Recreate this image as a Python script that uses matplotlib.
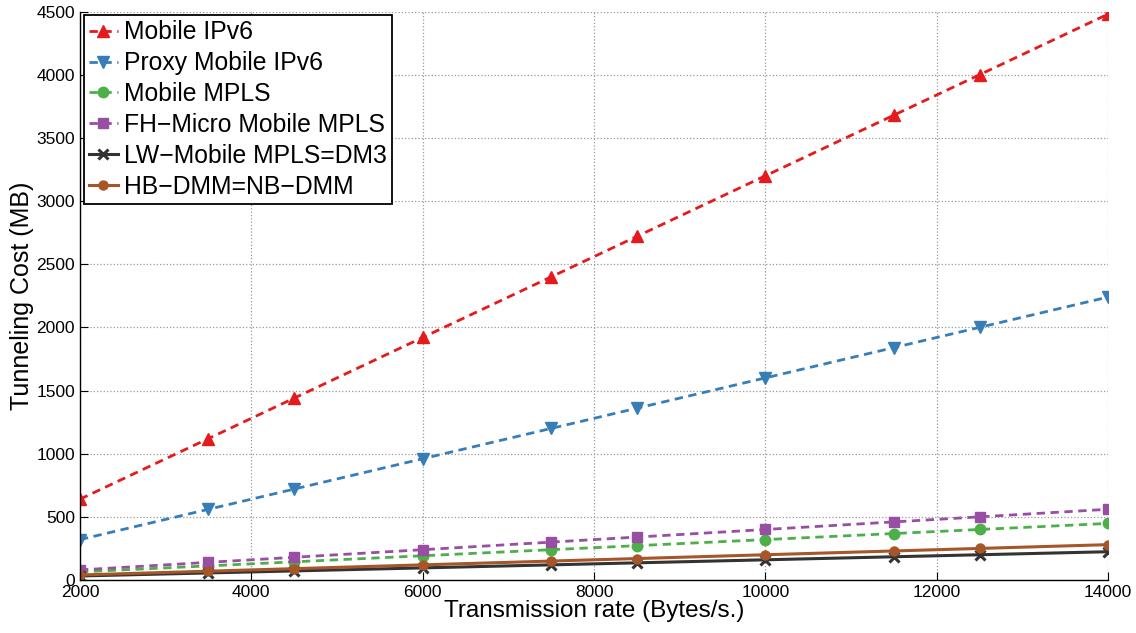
import matplotlib
matplotlib.use("Agg")
import matplotlib.pyplot as plt

plt.rcParams['font.family'] = ['Liberation Sans', 'DejaVu Sans']

x = [2000, 3500, 4500, 6000, 7500, 8500, 10000, 11500, 12500, 14000]
mipv6 = [640, 1120, 1440, 1920, 2400, 2720, 3200, 3680, 4000, 4480]
pmipv6 = [320, 560, 720, 960, 1200, 1360, 1600, 1840, 2000, 2240]
mmpls = [64, 112, 144, 192, 240, 272, 320, 368, 400, 448]
fh = [80, 140, 180, 240, 300, 340, 400, 460, 500, 560]
lw = [32, 56, 72, 96, 120, 136, 160, 184, 200, 224]
hb = [40, 70, 90, 120, 150, 170, 200, 230, 250, 280]

labels = ["Mobile IPv6", "Proxy Mobile IPv6", "Mobile MPLS",
          "FH\u2212Micro Mobile MPLS", "LW\u2212Mobile MPLS=DM3", "HB\u2212DMM=NB\u2212DMM"]
xticks = [2000, 4000, 6000, 8000, 10000, 12000, 14000]
yticks = [0, 500, 1000, 1500, 2000, 2500, 3000, 3500, 4000, 4500]

fig = plt.figure(figsize=(11.36, 6.33), dpi=100)
ax = fig.add_axes([0.0704, 0.0837, 0.905, 0.898])

ax.plot(x, mipv6, '--', color='#e41a1c', marker='^', ms=9, lw=2, label=labels[0], dashes=(3, 2))
ax.plot(x, pmipv6, '--', color='#377eb8', marker='v', ms=9, lw=2, label=labels[1], dashes=(3, 2))
ax.plot(x, mmpls, '--', color='#4daf4a', marker='o', ms=7.5, lw=2, label=labels[2], dashes=(3, 2))
ax.plot(x, fh, '--', color='#984ea3', marker='s', ms=7.5, lw=2, label=labels[3], dashes=(3, 2))
ax.plot(x, lw, '-', color='#333333', marker='x', ms=7, mew=2.2, lw=2.2, label=labels[4])
ax.plot(x, hb, '-', color='#a65628', marker='o', ms=6.5, lw=2.2, label=labels[5])

ax.set_xlim(2000, 14000)
ax.set_ylim(0, 4500)
ax.set_xticks(xticks)
ax.set_yticks(yticks)
ax.tick_params(direction='in', labelsize=12.5, length=6, top=False, right=False)
ax.tick_params(axis='x', pad=3.5)
ax.grid(True, linestyle=':', color='#999999', linewidth=0.9)
for s in ax.spines.values():
    s.set_linewidth(1.0)
ax.spines['top'].set_visible(False)
ax.spines['right'].set_visible(False)

ax.set_xlabel("Transmission rate (Bytes/s.)", fontsize=17.5, labelpad=0)
ax.set_ylabel("Tunneling Cost (MB)", fontsize=18, labelpad=2)

leg = ax.legend(loc='upper left', fontsize=17.8, frameon=True, fancybox=False,
                edgecolor='black', framealpha=1, handlelength=1.2, handletextpad=0.25,
                borderpad=0.2, labelspacing=0.28, borderaxespad=0.15)
leg.get_frame().set_linewidth(1.3)

fig.savefig("out.png", dpi=100)
